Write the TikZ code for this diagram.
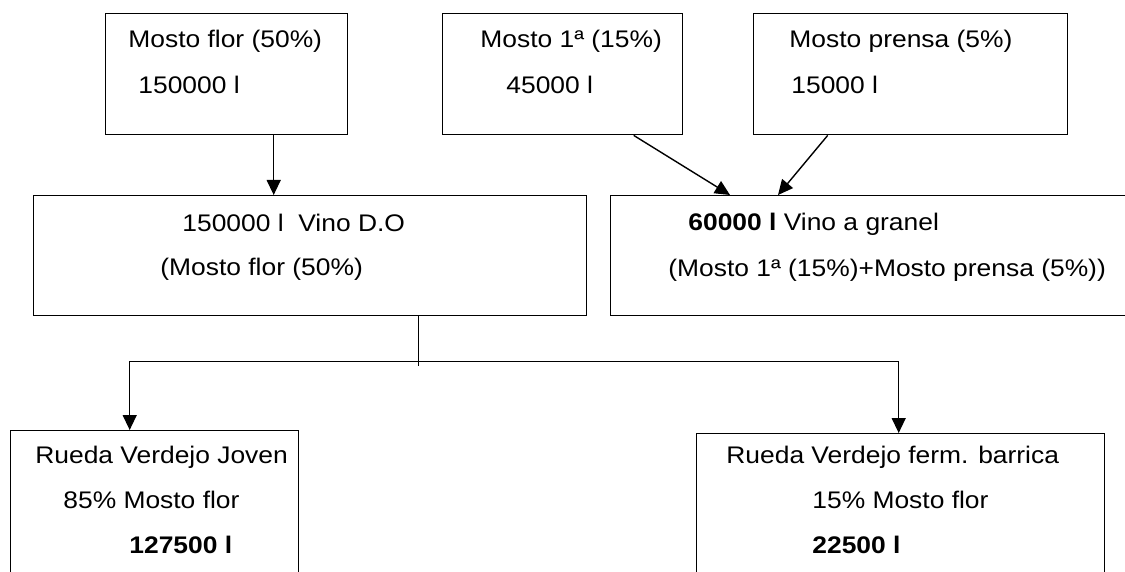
\documentclass[tikz,border=0pt]{standalone}
\usepackage{fontspec}
\setmainfont{Liberation Sans}[FakeStretch=1.1]
\usetikzlibrary{arrows.meta,positioning,calc}

\begin{document}
\begin{tikzpicture}[x=0.5pt,y=-0.5pt,
  caja/.style={draw, line width=0.7pt, inner sep=0pt, anchor=north west},
  linea/.style={anchor=base west, inner sep=0pt, font=\fontsize{12pt}{14pt}\selectfont},
  flecha/.style={line width=0.7pt, -{Triangle[length=7.5pt,width=7pt]}},
  doble/.style={line width=0.7pt, {Triangle[length=7.5pt,width=7pt]}-{Triangle[length=7.5pt,width=7pt]}}]
  \useasboundingbox (0,0) rectangle (1125,572);

  % cajas
  \node[caja, minimum width=121pt, minimum height=60.5pt] (mostoflor) at (105,13) {};
  \node[caja, minimum width=120pt, minimum height=60.5pt] (mostoprimera) at (442,13) {};
  \node[caja, minimum width=157pt, minimum height=60.5pt] (mostoprensa) at (753,13) {};
  \node[caja, minimum width=276.5pt, minimum height=60pt] (vinodo) at (33,195) {};
  \node[caja, minimum width=280pt, minimum height=60pt] (granel) at (610,195) {};
  \node[caja, minimum width=144pt, minimum height=90pt] (joven) at (10,430) {};
  \node[caja, minimum width=204pt, minimum height=90pt] (barrica) at (696,433) {};

  % textos
  \node[linea] (mostoflor-a) at (128,48) {Mosto flor (50\%)};
  \node[linea] (mostoflor-b) at (138,94) {150000 l};
  \node[linea] (mostoprimera-a) at (480,48) {Mosto 1ª (15\%)};
  \node[linea] (mostoprimera-b) at (506,94) {45000 l};
  \node[linea] (mostoprensa-a) at (789,48) {Mosto prensa (5\%)};
  \node[linea] (mostoprensa-b) at (791,94) {15000 l};
  \node[linea] (vinodo-a) at (182,232) {150000 l\ \ Vino D.O};
  \node[linea] (vinodo-b) at (160,276) {(Mosto flor (50\%)};
  \node[linea] (granel-a) at (688,231) {\textbf{60000 l} Vino a granel};
  \node[linea] (granel-b) at (668,277) {(Mosto 1ª (15\%)+Mosto prensa (5\%))};
  \node[linea] (joven-a) at (35,463) {Rueda Verdejo Joven};
  \node[linea] (joven-b) at (63,508) {85\% Mosto flor};
  \node[linea] (joven-c) at (129,553) {\textbf{127500 l}};
  \node[linea] (barrica-a) at (726,463) {Rueda Verdejo ferm. barrica};
  \node[linea] (barrica-b) at (812,508) {15\% Mosto flor};
  \node[linea] (barrica-c) at (812,553) {\textbf{22500 l}};

  % flechas
  \draw[flecha] ([xshift=23.5pt]mostoflor.south) coordinate (bajada) -- (bajada |- vinodo.north);
  \draw[flecha] ([xshift=35.5pt]mostoprimera.south) -- ([xshift=60pt]granel.north west);
  \draw[flecha] ([xshift=-41.5pt]mostoprensa.south) -- ([xshift=84pt]granel.north west);
  \draw[line width=0.7pt] ([xshift=54.25pt]vinodo.south) -- ++(0,-25pt);
  \coordinate (reparto) at ([yshift=-22.5pt]vinodo.south);
  \draw[doble] ([xshift=-12.5pt]joven.north) |- (reparto) -| ([xshift=-1pt]barrica.north);
\end{tikzpicture}
\end{document}
